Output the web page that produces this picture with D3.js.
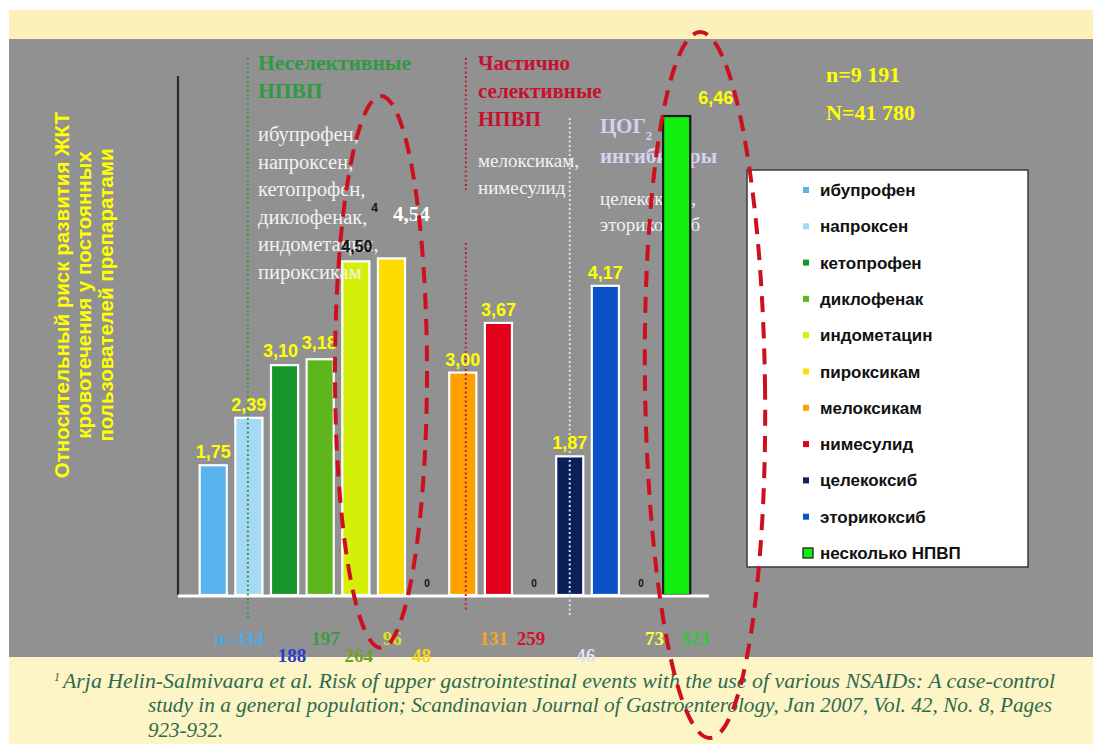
<!DOCTYPE html>
<html>
<head>
<meta charset="utf-8">
<script src="https://cdn.jsdelivr.net/npm/d3@7"></script>
<style>
  html, body { margin: 0; padding: 0; background: #ffffff; }
  svg { display: block; }
</style>
</head>
<body>
<svg id="chart" width="1093" height="744"></svg>
<script>
// ---- data ----
const drugs = ["ибупрофен", "напроксен", "кетопрофен", "диклофенак", "индометацин",
  "пироксикам", "мелоксикам", "нимесулид", "целекоксиб", "эторикоксиб", "несколько НПВП"];
const risk = [1.75, 2.39, 3.10, 3.18, 4.50, 4.54, 3.00, 3.67, 1.87, 4.17, 6.46];
const patients = [334, 188, 197, 264, 96, 48, 131, 259, 46, 73, 323];
const drugColors = ["#58b4ee", "#a6d9f6", "#16962a", "#5fb51c", "#d6ef08", "#ffdc00",
  "#ff9f00", "#e3001c", "#0b1f58", "#0a52c8", "#12f012"];
const countColors = ["#4ea8e6", "#2b3bcb", "#3d9b3f", "#6f9f27", "#d9e31f", "#ffd21a",
  "#f5a623", "#d3122d", "#e2e2f4", "#ffff3c", "#2fcb33"];
// empty slots (value 0) separating the groups
const gapSlots = ["gap-a", "gap-b", "gap-c"];
const gapValue = 0;
const slotOrder = [...drugs.slice(0, 6), gapSlots[0], ...drugs.slice(6, 8), gapSlots[1],
  ...drugs.slice(8, 10), gapSlots[2], drugs[10]];
const yMax = 7;

const groupNonSel = ["Неселективные", "НПВП"];
const listNonSel = ["ибупрофен,", "напроксен,", "кетопрофен,", "диклофенак,", "индометацин,", "пироксикам"];
const groupPartSel = ["Частично", "селективные", "НПВП"];
const listPartSel = ["мелоксикам,", "нимесулид"];
const groupCox2 = ["ЦОГ", "ингибиторы"];
const listCox2 = ["целекоксиб,", "эторикоксиб"];
const yTitle = ["Относительный риск развития ЖКТ", "кровотечения у постоянных", "пользователей препаратами"];
const totals = ["n=9 191", "N=41 780"];
const footnote = [
  "Arja Helin-Salmivaara et al. Risk of upper gastrointestinal events with the use of various NSAIDs: A case-control",
  "study in a general population; Scandinavian Journal of Gastroenterology, Jan 2007, Vol. 42, No. 8, Pages",
  "923-932."
];

// ---- layout ----
const W = 1093, H = 744;
const SANS = "'Liberation Sans', Arial, sans-serif";
const SERIF = "'Liberation Serif', 'Times New Roman', serif";
const svg = d3.select("#chart");

svg.append("rect").attr("width", W).attr("height", H).attr("fill", "#ffffff");
svg.append("rect").attr("x", 9).attr("y", 10).attr("width", W - 9).attr("height", 29).attr("fill", "#fcf1bb");
svg.append("rect").attr("x", 9).attr("y", 39).attr("width", W - 9).attr("height", 618).attr("fill", "#919191");
svg.append("rect").attr("x", 9).attr("y", 657).attr("width", W - 9).attr("height", H - 657).attr("fill", "#fdf5c6");

const x = d3.scaleBand().domain(slotOrder).range([195.4, 694.5]).paddingInner(0.24).paddingOuter(0.12);
const y = d3.scaleLinear().domain([0, yMax]).range([595, 76]);
const bw = x.bandwidth();
const cx = name => x(name) + bw / 2;
const fmt = v => d3.format(".2f")(v).replace(".", ",");

// y-axis title (three rotated lines)
const yt = svg.append("text")
  .attr("transform", "translate(84,295) rotate(-90)")
  .attr("text-anchor", "middle")
  .attr("font-family", SANS).attr("font-weight", "bold").attr("font-size", 20.5)
  .attr("fill", "#ffff00");
yTitle.forEach((t, i) => yt.append("tspan").attr("x", 0).attr("y", (i - 1) * 22 + 7).text(t));

// group headings behind the bars
function block(lines, x0, y0, step, opts) {
  const t = svg.append("text")
    .attr("font-family", SERIF).attr("font-size", opts.size)
    .attr("font-weight", opts.bold ? "bold" : "normal").attr("fill", opts.fill);
  lines.forEach((s, i) => t.append("tspan").attr("x", x0).attr("y", y0 + i * step).text(s));
  return t;
}
block(groupNonSel, 258, 70, 28, { size: 21.5, bold: true, fill: "#2f9a44" });
block(groupPartSel, 478, 70, 28, { size: 21, bold: true, fill: "#c8102e" });
block(listPartSel, 478, 167, 27, { size: 19, bold: false, fill: "#f2f2f2" });
const cox = svg.append("text").attr("font-family", SERIF).attr("font-size", 21)
  .attr("font-weight", "bold").attr("fill", "#d8d0f0");
cox.append("tspan").attr("x", 600).attr("y", 133).text(groupCox2[0]);
cox.append("tspan").attr("dy", 7).attr("font-size", 13).text("2");
cox.append("tspan").attr("x", 600).attr("y", 163).text(groupCox2[1]);
block(listCox2, 600, 205, 26, { size: 19, bold: false, fill: "#f2f2f2" });

// bars
const barData = drugs.map((d, i) => ({ name: d, value: risk[i], color: drugColors[i], i }));
svg.append("g").selectAll("rect").data(barData).join("rect")
  .attr("x", d => x(d.name)).attr("width", bw)
  .attr("y", d => y(d.value)).attr("height", d => y(0) - y(d.value))
  .attr("fill", d => d.color)
  .attr("stroke", d => d.i === drugs.length - 1 ? "#1a1a1a" : "#ffffff")
  .attr("stroke-width", 2.2);

// list of non-selective drugs (drawn over the bars)
block(listNonSel, 258, 141, 27.6, { size: 20.5, bold: false, fill: "#f2f2f2" });

// axes
svg.append("line").attr("x1", 178).attr("x2", 178).attr("y1", y(yMax)).attr("y2", y(0))
  .attr("stroke", "#2a2a2a").attr("stroke-width", 2.2);
svg.append("line").attr("x1", 178).attr("x2", 709).attr("y1", y(0) + 1).attr("y2", y(0) + 1)
  .attr("stroke", "#ffffff").attr("stroke-width", 3);

// dotted group separators
function dots(xp, y1, y2, color) {
  svg.append("line").attr("x1", xp).attr("x2", xp).attr("y1", y1).attr("y2", y2)
    .attr("stroke", color).attr("stroke-width", 2).attr("stroke-dasharray", "2,2.5");
}
dots(cx(drugs[1]) - 1, 58, 620, "#3a9a4a");
dots(cx(drugs[6]) + 3, 58, 190, "#b8203c");
dots(cx(drugs[6]) + 3, 243, 610, "#b8203c");
dots(cx(drugs[8]), 118, 615, "#e2def6");

// zero markers in empty slots
svg.append("g").selectAll("text").data(gapSlots).join("text")
  .attr("x", d => cx(d)).attr("y", y(gapValue) - 8)
  .attr("text-anchor", "middle").attr("font-family", SANS).attr("font-weight", "bold")
  .attr("font-size", 10).attr("fill", "#111").text(gapValue);

// value labels
const labelStyle = i => {
  if (i === 2) return { fill: "#ffff00", font: SANS, size: 18, dx: -4, dy: -8 };
  if (i === 3) return { fill: "#ffff00", font: SANS, size: 18, dx: -1, dy: -10 };
  if (i === 4) return { fill: "#111", font: SANS, size: 16, dx: 1, dy: -9 };
  if (i === 5) return { fill: "#ffffff", font: SERIF, size: 21, dx: 20, dy: -37 };
  if (i === 10) return { fill: "#ffff00", font: SANS, size: 18, dx: 39, dy: -12 };
  return { fill: "#ffff00", font: SANS, size: 18, dx: 0, dy: -7 };
};
svg.append("g").selectAll("text").data(barData).join("text")
  .each(function (d) {
    const s = labelStyle(d.i);
    d3.select(this).attr("x", cx(d.name) + s.dx).attr("y", y(d.value) + s.dy)
      .attr("fill", s.fill).attr("font-family", s.font).attr("font-size", s.size);
  })
  .attr("text-anchor", "middle").attr("font-weight", "bold")
  .text(d => fmt(d.value));
svg.append("text").attr("x", cx(drugs[5]) - 17).attr("y", y(risk[5]) - 46)
  .attr("text-anchor", "middle").attr("font-family", SANS).attr("font-weight", "bold")
  .attr("font-size", 12).attr("fill", "#111").text("4");

// patient counts under the axis
const countShift = [26, 43, 41, 38.5, 36.5, 30, 31, 32.5, 16, 49, 18];
const lowerRow = [1, 3, 5, 8];
svg.append("g").selectAll("text").data(barData).join("text")
  .attr("x", d => cx(d.name) + countShift[d.i])
  .attr("y", d => lowerRow.includes(d.i) ? 662 : 645)
  .attr("text-anchor", "middle").attr("font-family", SERIF).attr("font-weight", "bold")
  .attr("font-size", 19).attr("fill", d => countColors[d.i])
  .text(d => (d.i === 0 ? "n=" : "") + patients[d.i]);

// totals
block(totals, 826, 82, 38, { size: 22, bold: true, fill: "#ffff00" });

// legend
const lg = svg.append("g");
lg.append("rect").attr("x", 747).attr("y", 170).attr("width", 281).attr("height", 397)
  .attr("fill", "#ffffff").attr("stroke", "#3a3a3a").attr("stroke-width", 1.5);
const item = lg.selectAll("g.item").data(barData).join("g").attr("class", "item")
  .attr("transform", (d, i) => `translate(0,${190 + i * 36.3})`);
item.append("rect")
  .attr("x", 803).attr("y", d => d.i === 10 ? -5 : -3)
  .attr("width", d => d.i === 10 ? 10 : 6).attr("height", d => d.i === 10 ? 10 : 6)
  .attr("fill", d => d.color)
  .attr("stroke", d => d.i === 10 ? "#111" : "none").attr("stroke-width", 1.2);
item.append("text").attr("x", 820).attr("y", 6)
  .attr("font-family", SANS).attr("font-weight", "bold").attr("font-size", 17)
  .attr("fill", "#111").text(d => d.name);

// footnote
const fn = svg.append("g").attr("font-family", SERIF).attr("font-style", "italic").attr("fill", "#2e6a4f");
fn.append("text").attr("x", 54).attr("y", 681).attr("font-size", 12).text("1");
fn.append("text").attr("x", 63).attr("y", 688).attr("font-size", 21)
  .attr("textLength", 992).attr("lengthAdjust", "spacingAndGlyphs").text(footnote[0]);
fn.append("text").attr("x", 148).attr("y", 712).attr("font-size", 21)
  .attr("textLength", 904).attr("lengthAdjust", "spacingAndGlyphs").text(footnote[1]);
fn.append("text").attr("x", 148).attr("y", 737).attr("font-size", 21).text(footnote[2]);

// red dashed highlight ovals
const ovals = [
  { cx: 381, cy: 372, rx: 46, ry: 276, rot: 0 },
  { cx: 705, cy: 385, rx: 60, ry: 353, rot: -0.8 }
];
svg.append("g").selectAll("ellipse").data(ovals).join("ellipse")
  .attr("cx", d => d.cx).attr("cy", d => d.cy).attr("rx", d => d.rx).attr("ry", d => d.ry)
  .attr("transform", d => `rotate(${d.rot},${d.cx},${d.cy})`)
  .attr("fill", "none").attr("stroke", "#cc1020").attr("stroke-width", 4)
  .attr("stroke-dasharray", "16,10");
</script>
</body>
</html>
